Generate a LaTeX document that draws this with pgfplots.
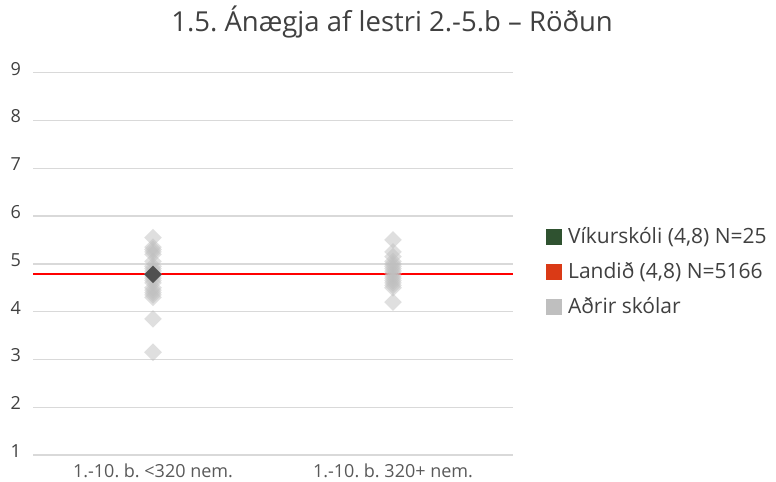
\documentclass[border=0pt]{standalone}
\usepackage{pgfplots}
\pgfplotsset{compat=1.18}
\usepackage{fontspec}
\setmainfont{Open Sans}
\frenchspacing

\definecolor{gridc}{HTML}{D9D9D9}
\definecolor{txt}{HTML}{404040}
\definecolor{xtxt}{HTML}{595959}
\definecolor{vik}{HTML}{2F5230}
\definecolor{land}{HTML}{DA3A16}
\definecolor{adrir}{HTML}{BFBFBF}
\definecolor{dia}{HTML}{505050}

% adrir skolar, flokkur 1 og 2
\pgfplotstableread{
x y
1 5.55
1 5.35
1 5.30
1 5.25
1 5.20
1 5.05
1 4.95
1 4.90
1 4.85
1 4.80
1 4.75
1 4.70
1 4.65
1 4.60
1 4.50
1 4.45
1 4.40
1 4.35
1 4.30
1 3.85
1 3.15
2 5.50
2 5.25
2 5.15
2 5.05
2 5.00
2 4.95
2 4.90
2 4.85
2 4.80
2 4.75
2 4.70
2 4.65
2 4.60
2 4.55
2 4.50
2 4.20
}\adrirtable

\begin{document}
\begin{tikzpicture}
\begin{axis}[
    scale only axis,
    width=480bp, height=382.3bp,
    xmin=0.5, xmax=2.5, ymin=1, ymax=9,
    xtick={1,2},
    xticklabels={1.-10. b. <320 nem., 1.-10. b. 320+ nem.},
    ytick={1,2,3,4,5,6,7,8,9},
    /pgf/number format/assume math mode=true,
    axis line style={draw=none},
    major tick length=0pt,
    ymajorgrids,
    major grid style={gridc, line width=1.3bp},
    yticklabel style={font=\fontsize{18bp}{22bp}\selectfont, text=txt, anchor=east, inner sep=0pt, xshift=-12bp, yshift=4bp},
    xticklabel style={font=\fontsize{18bp}{21bp}\selectfont, text=xtxt, anchor=base, inner sep=0pt, yshift=-22bp},
    title={1.5. Ánægja af lestri 2.-5.b -- Röðun},
    title style={font=\fontsize{27.5bp}{32bp}\selectfont, text=txt, at={(axis description cs:0.748,1)}, anchor=base, inner sep=0pt, yshift=35.7bp},
    legend image code/.code={\fill[#1] (0bp,-8bp) rectangle (16bp,8bp);},
    legend cell align=left,
    legend style={at={(axis description cs:1.069,0.479)}, anchor=west, draw=none, fill=none,
        inner sep=0pt, outer sep=0pt, row sep=18bp, column sep=6bp,
        font=\fontsize{21bp}{25bp}\selectfont, text=txt,
        nodes={inner sep=0pt, text height=15.5bp, text depth=1.5bp}},
    clip=false,
]
\addlegendimage{fill=vik, draw=none}
\addlegendentry{Víkurskóli (4,8) N=25}
\addlegendimage{fill=land, draw=none}
\addlegendentry{Landið (4,8) N=5166}
\addlegendimage{fill=adrir, draw=none}
\addlegendentry{Aðrir skólar}

% Landid
\addplot[red, line width=2bp, forget plot] coordinates {(0.5,4.78) (2.5,4.78)};

% adrir skolar
\addplot[only marks, color=adrir, mark=square*, mark size=6.2bp, forget plot,
    mark options={rotate=45, draw opacity=0, fill=adrir, fill opacity=0.5}]
    table[x=x, y=y] {\adrirtable};

% Vikurskoli
\addplot[only marks, color=dia, mark=square*, mark size=6.2bp, forget plot,
    mark options={rotate=45, draw opacity=0, fill=dia}]
    coordinates {(1,4.78)};
\end{axis}
\useasboundingbox (-33bp,-27bp) rectangle (743bp,455bp);
\end{tikzpicture}
\end{document}
